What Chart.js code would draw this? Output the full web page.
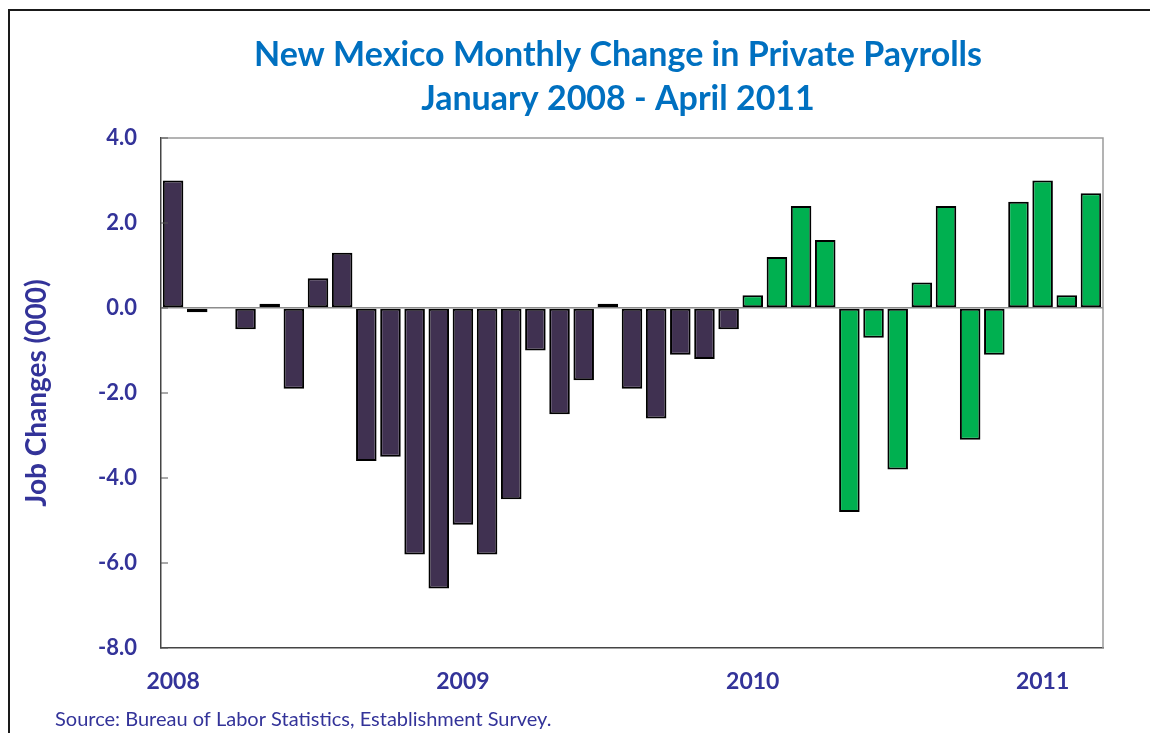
<!DOCTYPE html>
<html>
<head>
<meta charset="utf-8">
<script src="https://cdn.jsdelivr.net/npm/chart.js@4.4.0/dist/chart.umd.min.js"></script>
<style>
    html, body { margin: 0; padding: 0; background: #fff; }
    #wrap { width: 1150px; height: 733px; position: relative; }
</style>
</head>
<body>
<div id="wrap"><canvas id="payrollChart"></canvas></div>
<script>
// months Jan 2008 .. Mar 2011
var months = [
    'Jan 2008', 'Feb 2008', 'Mar 2008', 'Apr 2008', 'May 2008', 'Jun 2008',
    'Jul 2008', 'Aug 2008', 'Sep 2008', 'Oct 2008', 'Nov 2008', 'Dec 2008',
    'Jan 2009', 'Feb 2009', 'Mar 2009', 'Apr 2009', 'May 2009', 'Jun 2009',
    'Jul 2009', 'Aug 2009', 'Sep 2009', 'Oct 2009', 'Nov 2009', 'Dec 2009',
    'Jan 2010', 'Feb 2010', 'Mar 2010', 'Apr 2010', 'May 2010', 'Jun 2010',
    'Jul 2010', 'Aug 2010', 'Sep 2010', 'Oct 2010', 'Nov 2010', 'Dec 2010',
    'Jan 2011', 'Feb 2011', 'Mar 2011'
];
var jobChanges = [
    3.0, -0.1, 0.0, -0.5, 0.1, -1.9, 0.7, 1.3, -3.6, -3.5, -5.8, -6.6,
    -5.1, -5.8, -4.5, -1.0, -2.5, -1.7, 0.1, -1.9, -2.6, -1.1, -1.2, -0.5,
    0.3, 1.2, 2.4, 1.6, -4.8, -0.7, -3.8, 0.6, 2.4, -3.1, -1.1, 2.5,
    3.0, 0.3, 2.7
];
var yearTicks = ['2008', '2009', '2010', '2011'];
var titleLines = ['New Mexico Monthly Change in Private Payrolls', 'January 2008 - April 2011'];
var sourceNote = 'Source: Bureau of Labor Statistics, Establishment Survey.';

var purple = '#403151';
var green = '#00B050';
var navy = '#333399';

// title, frame, inner y ticks, top/right border, source line
var extras = {
    id: 'extras',
    afterDraw: function (chart) {
        var ctx = chart.ctx;
        var area = chart.chartArea;
        var y = chart.scales.y;
        ctx.save();
        ctx.strokeStyle = '#1a1a1a';
        ctx.lineWidth = 2;
        ctx.beginPath();
        ctx.moveTo(9, 733);
        ctx.lineTo(9, 10);
        ctx.lineTo(1150, 10);
        ctx.stroke();

        ctx.fillStyle = '#0070C0';
        ctx.font = 'bold 34px Lato';
        ctx.textAlign = 'center';
        ctx.textBaseline = 'middle';
        ctx.fillText(titleLines[0], 618, 55);
        ctx.fillText(titleLines[1], 618, 99);

        ctx.strokeStyle = '#9a9a9a';
        ctx.lineWidth = 1.5;
        ctx.beginPath();
        ctx.moveTo(area.left, area.top);
        ctx.lineTo(area.right, area.top);
        ctx.lineTo(area.right, area.bottom);
        ctx.stroke();

        ctx.strokeStyle = '#555';
        ctx.lineWidth = 1;
        y.ticks.forEach(function (t) {
            var py = y.getPixelForValue(t.value);
            ctx.beginPath();
            ctx.moveTo(area.left, py);
            ctx.lineTo(area.left + 7, py);
            ctx.stroke();
        });

        ctx.fillStyle = navy;
        ctx.font = '20px Lato';
        ctx.textAlign = 'left';
        ctx.fillText(sourceNote, 55, 720);
        ctx.restore();
    }
};

new Chart(document.getElementById('payrollChart'), {
    type: 'bar',
    data: {
        labels: months,
        datasets: [{
            label: 'Job Changes',
            data: jobChanges,
            backgroundColor: function (c) {
                return c.dataIndex >= 24 ? green : purple;
            },
            borderColor: '#000',
            borderWidth: 2,
            borderSkipped: false,
            barPercentage: 0.85,
            categoryPercentage: 1.0
        }]
    },
    options: {
        responsive: true,
        maintainAspectRatio: false,
        animation: false,
        layout: { padding: { left: 0, right: 47, top: 138, bottom: 0 } },
        plugins: {
            legend: { display: false },
            tooltip: { enabled: false },
            title: { display: false }
        },
        scales: {
            x: {
                grid: { display: false, drawTicks: false },
                border: { display: true, color: '#444', width: 1.5 },
                ticks: {
                    autoSkip: false,
                    maxRotation: 0,
                    padding: 20,
                    color: navy,
                    font: { family: 'Lato', size: 23, weight: 'bold' },
                    callback: function (val, idx) {
                        return idx % 12 === 0 ? yearTicks[idx / 12] : '';
                    }
                },
                afterFit: function (scale) { scale.height = 85; }
            },
            y: {
                min: -8,
                max: 4,
                ticks: {
                    stepSize: 2,
                    padding: 24,
                    color: navy,
                    font: { family: 'Lato', size: 22, weight: 'bold' },
                    callback: function (v) { return v.toFixed(1); }
                },
                grid: {
                    drawTicks: false,
                    color: function (c) { return c.tick && c.tick.value === 0 ? '#8c8c8c' : 'rgba(0,0,0,0)'; },
                    lineWidth: 1.5
                },
                border: { display: true, color: '#444', width: 1.5 },
                title: {
                    display: true,
                    text: 'Job Changes (000)',
                    color: navy,
                    font: { family: 'Lato', size: 28, weight: 'bold' },
                    padding: { top: 20, bottom: 0 }
                },
                afterFit: function (scale) { scale.width = 161; }
            }
        }
    },
    plugins: [extras]
});
</script>
</body>
</html>
